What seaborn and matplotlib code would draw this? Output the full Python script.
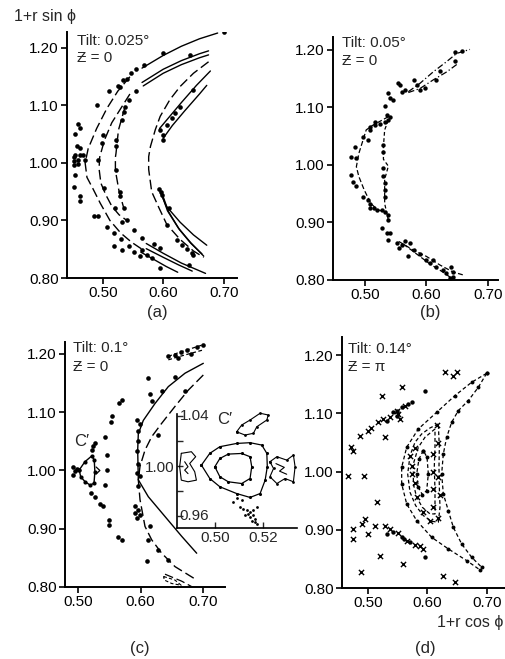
import matplotlib
matplotlib.use("Agg")
import matplotlib.pyplot as plt
import seaborn as sns
import pandas as pd

sns.set_style("ticks")
plt.rcParams['font.family'] = ['Liberation Sans', 'DejaVu Sans']
plt.rcParams['font.size'] = 10.5

# ---------------- data: panel (a) ----------------
a_dots_x = [0.700, 0.600, 0.645, 0.569, 0.555, 0.547, 0.540, 0.534, 0.511, 0.525, 0.529, 0.555, 0.543, 0.490,
            0.537, 0.535, 0.532, 0.501, 0.499, 0.522, 0.522,
            0.460, 0.462, 0.455, 0.457, 0.462, 0.455, 0.462, 0.468, 0.452, 0.452, 0.452, 0.460, 0.460, 0.455,
            0.452, 0.462, 0.462, 0.471,
            0.485, 0.493, 0.493, 0.502, 0.507, 0.518, 0.518, 0.531, 0.532, 0.532, 0.540, 0.522, 0.528, 0.529,
            0.521, 0.535, 0.543, 0.551, 0.551, 0.562, 0.565, 0.573, 0.581, 0.565, 0.584, 0.595, 0.595, 0.642,
            0.595, 0.600, 0.600, 0.606, 0.614, 0.620, 0.628, 0.650, 0.593, 0.596, 0.598, 0.609, 0.606, 0.623,
            0.631, 0.640, 0.648, 0.650]
a_dots_y = [1.228, 1.191, 1.188, 1.170, 1.163, 1.156, 1.146, 1.145, 1.126, 1.134, 1.133, 1.125, 1.110, 1.100,
            1.098, 1.089, 1.075, 1.049, 1.034, 1.040, 1.029,
            1.068, 1.061, 1.050, 1.029, 1.026, 1.014, 1.014, 1.014, 1.011, 1.003, 0.997, 1.005, 0.999, 0.979,
            0.958, 0.943, 0.934, 1.006,
            0.907, 0.907, 1.005, 0.956, 0.888, 0.878, 0.855, 0.867, 0.849, 0.898, 0.901, 0.987, 0.949, 0.942,
            0.921, 0.921, 0.855, 0.884, 0.846, 0.839, 0.848, 0.840, 0.835, 0.869, 0.859, 0.852, 0.817, 0.823,
            1.057, 1.049, 1.040, 1.066, 1.078, 1.087, 1.098, 1.127, 0.954, 0.950, 0.944, 0.921, 0.892, 0.866,
            0.857, 0.851, 0.843, 0.840]

a_T1_x = [0.565, 0.600, 0.630, 0.660, 0.690]
a_T1_y = [1.165, 1.187, 1.203, 1.216, 1.226]
a_T2_x = [0.565, 0.600, 0.630, 0.660, 0.675]
a_T2_y = [1.140, 1.163, 1.178, 1.190, 1.195]
a_T3_x = [0.567, 0.600, 0.630, 0.660, 0.675]
a_T3_y = [1.134, 1.156, 1.171, 1.183, 1.188]
a_R1_x = [0.594, 0.610, 0.630, 0.655, 0.678]
a_R1_y = [1.060, 1.080, 1.105, 1.135, 1.160]
a_R2_x = [0.600, 0.615, 0.635, 0.660, 0.672]
a_R2_y = [1.043, 1.065, 1.090, 1.120, 1.135]
a_R0_x = [0.675, 0.650, 0.628, 0.611, 0.595, 0.587, 0.579, 0.576, 0.576, 0.581, 0.593, 0.606, 0.628, 0.650, 0.667]
a_R0_y = [1.176, 1.156, 1.133, 1.110, 1.081, 1.058, 1.029, 1.011, 0.989, 0.950, 0.922, 0.893, 0.867, 0.847, 0.836]
a_R3_x = [0.593, 0.605, 0.628, 0.650, 0.672]
a_R3_y = [0.955, 0.925, 0.897, 0.875, 0.857]
a_R4_x = [0.596, 0.607, 0.625, 0.645, 0.667]
a_R4_y = [0.950, 0.917, 0.887, 0.862, 0.838]
a_R5_x = [0.598, 0.609, 0.627, 0.646, 0.664]
a_R5_y = [0.947, 0.915, 0.884, 0.860, 0.842]
a_B1_x = [0.572, 0.600, 0.630, 0.670]
a_B1_y = [0.860, 0.843, 0.826, 0.808]
a_B2_x = [0.572, 0.600, 0.625, 0.648]
a_B2_y = [0.851, 0.836, 0.823, 0.812]
a_B3_x = [0.563, 0.585, 0.605, 0.624]
a_B3_y = [0.845, 0.832, 0.820, 0.810]
a_L1_x = [0.545, 0.525, 0.507, 0.490, 0.476, 0.471, 0.474, 0.484, 0.496, 0.512, 0.530, 0.548, 0.565]
a_L1_y = [1.150, 1.125, 1.095, 1.060, 1.025, 1.000, 0.975, 0.955, 0.930, 0.900, 0.878, 0.862, 0.850]
a_L2_x = [0.545, 0.530, 0.515, 0.503, 0.495, 0.494, 0.497, 0.505, 0.515, 0.527, 0.540]
a_L2_y = [1.120, 1.095, 1.070, 1.040, 1.010, 0.990, 0.965, 0.945, 0.925, 0.910, 0.900]
a_L3_x = [0.537, 0.526, 0.522, 0.521, 0.521, 0.527, 0.535]
a_L3_y = [1.098, 1.057, 1.017, 1.010, 0.987, 0.951, 0.921]

# ---------------- data: panel (b) ----------------
b_dots_x = [0.554, 0.557, 0.560, 0.565, 0.579, 0.584, 0.589, 0.597, 0.616, 0.622, 0.646, 0.646, 0.657,
            0.538, 0.541, 0.546, 0.532, 0.536, 0.541, 0.538, 0.532, 0.524, 0.516, 0.508, 0.516, 0.508, 0.497,
            0.505, 0.484, 0.486, 0.478, 0.478, 0.481, 0.486, 0.497, 0.505, 0.508, 0.514, 0.508, 0.519, 0.527,
            0.532, 0.538, 0.538, 0.527, 0.535, 0.538, 0.541, 0.552, 0.555, 0.560, 0.565, 0.573, 0.570, 0.579,
            0.589, 0.600, 0.611, 0.605, 0.616, 0.627, 0.632, 0.640, 0.643, 0.643, 0.638,
            0.529, 0.530, 0.530, 0.530, 0.532, 0.532, 0.532]
b_dots_y = [1.143, 1.139, 1.127, 1.130, 1.148, 1.139, 1.130, 1.134, 1.148, 1.164, 1.180, 1.196, 1.198,
            1.125, 1.116, 1.113, 1.102, 1.087, 1.084, 1.078, 1.075, 1.072, 1.069, 1.066, 1.075, 1.061, 1.049,
            1.043, 1.032, 1.012, 1.014, 0.983, 0.971, 0.963, 0.945, 0.939, 0.933, 0.925, 0.925, 0.922, 0.922,
            0.919, 0.913, 0.904, 0.890, 0.881, 0.870, 0.881, 0.864, 0.855, 0.861, 0.867, 0.864, 0.841, 0.852,
            0.846, 0.835, 0.835, 0.829, 0.823, 0.817, 0.812, 0.823, 0.814, 0.806, 0.803,
            1.035, 1.023, 0.994, 0.980, 0.968, 0.957, 0.945]
b_top1_x = [0.5705, 0.5894, 0.611, 0.633, 0.649, 0.6707]
b_top1_y = [1.1275, 1.142, 1.162, 1.180, 1.194, 1.201]
b_top2_x = [0.5705, 0.5894, 0.611, 0.633, 0.652]
b_top2_y = [1.126, 1.133, 1.148, 1.162, 1.177]
b_left_x = [0.538, 0.5125, 0.502, 0.490, 0.486, 0.490, 0.4986, 0.5096, 0.5206, 0.532]
b_left_y = [1.084, 1.069, 1.061, 1.020, 0.997, 0.980, 0.957, 0.933, 0.922, 0.919]
b_mid_x = [0.538, 0.532, 0.530, 0.530, 0.538, 0.532, 0.532, 0.538]
b_mid_y = [1.078, 1.061, 1.032, 1.010, 0.998, 0.975, 0.933, 0.904]
b_bot1_x = [0.555, 0.5786, 0.600, 0.622, 0.643, 0.659]
b_bot1_y = [0.867, 0.852, 0.841, 0.826, 0.814, 0.809]
b_bot2_x = [0.5623, 0.5840, 0.6057, 0.6274, 0.6436]
b_bot2_y = [0.8626, 0.8452, 0.8278, 0.8133, 0.801]

# ---------------- data: panel (c) ----------------
c_dots_x = [0.570, 0.5653, 0.5539, 0.5523, 0.5432, 0.5459, 0.5459, 0.5432, 0.5501, 0.5501, 0.5645, 0.570,
            0.6099, 0.6125,
            0.5939, 0.5992, 0.5955, 0.5965, 0.5939, 0.5965, 0.5939, 0.5992, 0.5965, 0.5912, 0.5965, 0.5912,
            0.5992, 0.5939, 0.6152, 0.6179, 0.6339, 0.6552, 0.6152, 0.6125, 0.6285, 0.6445, 0.6712, 0.6285,
            0.6445, 0.655, 0.665, 0.675, 0.690, 0.700, 0.660, 0.680,
            0.5227, 0.5245, 0.5272, 0.520, 0.5272, 0.5352, 0.5405, 0.4925, 0.495, 0.4925, 0.498]
c_dots_y = [1.121, 1.116, 1.093, 1.084, 1.058, 1.026, 1.000, 0.975, 0.915, 0.906, 0.886, 0.880,
            0.845, 1.158,
            1.086, 1.080, 1.068, 1.051, 1.034, 1.011, 0.995, 0.990, 0.973, 0.939, 0.933, 0.927,
            0.924, 0.918, 1.131, 1.119, 1.136, 1.161, 0.904, 0.881, 0.864, 0.847, 1.136, 1.061,
            1.196, 1.199, 1.203, 1.207, 1.212, 1.215, 1.193, 1.200,
            1.035, 1.042, 1.048, 0.962, 0.954, 0.943, 0.939, 1.006, 0.999, 0.993, 1.003]
c_C1_x = [0.7005, 0.6712, 0.6445, 0.6232, 0.6045, 0.5965, 0.5955, 0.5965, 0.6125, 0.6392, 0.6659, 0.6899]
c_C1_y = [1.184, 1.167, 1.144, 1.115, 1.086, 1.063, 1.035, 0.984, 0.955, 0.921, 0.887, 0.858]
c_C2_x = [0.7005, 0.6765, 0.6552, 0.6339, 0.6179, 0.6072, 0.5992, 0.5965, 0.5992, 0.6072, 0.6179, 0.6339,
          0.6552, 0.6899]
c_C2_y = [1.164, 1.138, 1.110, 1.081, 1.058, 1.035, 1.007, 0.984, 0.950, 0.904, 0.881, 0.858, 0.835, 0.812]
c_P1_x = [0.6445, 0.660, 0.680, 0.7005]
c_P1_y = [1.196, 1.202, 1.209, 1.216]
c_P2_x = [0.6445, 0.660, 0.680, 0.7005]
c_P2_y = [1.190, 1.195, 1.201, 1.207]
c_S1_x = [0.6392, 0.6659, 0.6899]
c_S1_y = [0.822, 0.810, 0.796]
c_S2_x = [0.637, 0.655, 0.665, 0.650, 0.638, 0.637]
c_S2_y = [0.818, 0.812, 0.803, 0.806, 0.812, 0.818]
c_cp_x = [0.502, 0.511, 0.522, 0.526, 0.527, 0.5256, 0.5192, 0.5112, 0.5043, 0.502]
c_cp_y = [1.001, 1.015, 1.025, 1.018, 0.998, 0.978, 0.975, 0.981, 0.989, 1.001]
c_Y_x = [0.529, 0.535, 0.529]
c_Y_y = [1.006, 1.000, 0.994]

# ---------------- data: inset of (c) ----------------
i_out_x = [0.4944, 0.4979, 0.5021, 0.5091, 0.5147, 0.5196, 0.5217, 0.5219, 0.5210, 0.5189, 0.5147, 0.5091,
           0.5021, 0.4979, 0.4944]
i_out_y = [1.0008, 1.0102, 1.0155, 1.0181, 1.0187, 1.0168, 1.0102, 0.9995, 0.9888, 0.9781, 0.9750, 0.9781,
           0.9835, 0.9901, 1.0008]
i_in_x = [0.5000, 0.5021, 0.5056, 0.5112, 0.5147, 0.5154, 0.5147, 0.5112, 0.5056, 0.5021, 0.5000]
i_in_y = [0.9995, 1.0061, 1.0096, 1.0101, 1.0075, 0.9995, 0.9901, 0.9861, 0.9875, 0.9915, 0.9995]
i_left_x = [0.4860, 0.4902, 0.4920, 0.4895, 0.4916, 0.4923, 0.4888, 0.4860, 0.4853, 0.4860]
i_left_y = [1.0102, 1.0115, 1.0075, 1.0021, 0.9955, 0.9888, 0.9875, 0.9888, 0.9995, 1.0102]
i_left2_x = [0.4874, 0.4888, 0.4874, 0.4888]
i_left2_y = [1.0035, 0.9995, 0.9968, 0.9940]
i_right_x = [0.5230, 0.5259, 0.5300, 0.5328, 0.5335, 0.5328, 0.5293, 0.5259, 0.5230, 0.5245, 0.5230]
i_right_y = [1.0035, 1.0075, 1.0048, 1.0088, 0.9995, 0.9875, 0.9901, 0.9861, 0.9915, 0.9981, 1.0035]
i_right2_x = [0.5255, 0.5290, 0.5270, 0.5300]
i_right2_y = [1.0020, 0.9990, 0.9960, 0.9935]
i_top_x = [0.5091, 0.5112, 0.5147, 0.5189, 0.5223, 0.5217, 0.5175, 0.5161, 0.5126, 0.5091]
i_top_y = [1.0274, 1.0328, 1.0368, 1.0422, 1.0408, 1.0368, 1.0314, 1.0262, 1.0248, 1.0274]
i_dots_x = [0.5074, 0.5091, 0.5112, 0.5105, 0.5119, 0.5133, 0.5147, 0.5161, 0.5126, 0.5147, 0.5168, 0.5154,
            0.5175, 0.5161, 0.5140, 0.5175, 0.5168]
i_dots_y = [0.9714, 0.9747, 0.9728, 0.9675, 0.9661, 0.9648, 0.9635, 0.9648, 0.9608, 0.9595, 0.9581, 0.9563,
            0.9536, 0.9608, 0.9621, 0.9675, 0.9555]

# ---------------- data: panel (d) ----------------
d_D1_x = [0.6994, 0.6742, 0.6462, 0.6154, 0.5846, 0.5650, 0.5566, 0.5566, 0.5650, 0.5818, 0.6070, 0.6350,
          0.6658, 0.6882]
d_D1_y = [1.1689, 1.1535, 1.1306, 1.1019, 1.0733, 1.0418, 1.0074, 0.9789, 0.9445, 0.9158, 0.8871, 0.8672,
          0.8471, 0.8311]
d_D2_x = [0.6994, 0.6854, 0.6686, 0.6518, 0.6406, 0.6322, 0.6266, 0.6238, 0.6266, 0.6350, 0.6434, 0.6574,
          0.6742, 0.6910]
d_D2_y = [1.1689, 1.1448, 1.1220, 1.1048, 1.0847, 1.0589, 1.0304, 0.9960, 0.9617, 0.9330, 0.9043, 0.8757,
          0.8528, 0.8357]
d_D3_x = [0.6182, 0.6042, 0.5902, 0.5790, 0.5706, 0.5667, 0.5706, 0.5801, 0.5930, 0.6070, 0.6182, 0.6210,
          0.6199, 0.6193, 0.6199, 0.6182]
d_D3_y = [1.0819, 1.0750, 1.0647, 1.0504, 1.0275, 0.9960, 0.9645, 0.9416, 0.9244, 0.9147, 0.9130, 0.9387,
          0.9731, 1.0074, 1.0418, 1.0819]
d_D4_x = [0.6126, 0.5958, 0.5846, 0.5762, 0.5762, 0.5818, 0.5913, 0.6042, 0.6126, 0.6126, 0.6114, 0.6126,
          0.6126]
d_D4_y = [1.0733, 1.0590, 1.0418, 1.0132, 0.9789, 0.9559, 0.9387, 0.9273, 0.9273, 0.9674, 1.0074, 1.0418,
          1.0733]
d_D5_x = [0.5930, 0.5857, 0.5818, 0.5846, 0.5913, 0.5986, 0.6014, 0.5992, 0.5930]
d_D5_y = [1.0361, 1.0218, 0.9960, 0.9731, 0.9605, 0.9674, 0.9960, 1.0246, 1.0361]
d_x_x = [0.6294, 0.6434, 0.6490, 0.5566, 0.5230, 0.5286, 0.4866, 0.5006, 0.5050, 0.4714, 0.4754, 0.4670,
         0.4939, 0.5146, 0.4754, 0.4754, 0.4894, 0.4950, 0.5006, 0.5202, 0.5594, 0.4883, 0.6266, 0.6462,
         0.5174, 0.5258, 0.5370, 0.5482, 0.5510, 0.5622, 0.5538,
         0.5706, 0.5734, 0.5790, 0.5818, 0.5734, 0.5790, 0.6098, 0.6098, 0.6098, 0.6098, 0.6182, 0.6182,
         0.6210, 0.6182, 0.6154, 0.5930, 0.6042,
         0.5286, 0.5370, 0.5510, 0.5650, 0.5790, 0.5874, 0.5930, 0.5118]
d_x_y = [1.1706, 1.1650, 1.1706, 1.1448, 1.1306, 1.0589, 1.0619, 1.0704, 1.0743, 1.0418, 1.0361, 0.9932,
         0.9920, 0.9473, 0.9016, 0.8843, 0.9101, 0.9187, 0.8929, 0.8557, 0.8405, 0.8271, 0.8214, 0.8099,
         1.0847, 1.0905, 1.0933, 1.1048, 1.0990, 1.1134, 1.0905,
         1.0275, 1.0100, 0.9800, 0.9560, 0.9960, 1.0400, 1.0300, 1.0000, 0.9700, 0.9400, 1.0500, 0.9900,
         0.9600, 0.9200, 1.0800, 0.9300, 0.9150,
         0.9073, 0.9016, 0.8941, 0.8814, 0.8746, 0.8728, 0.8672, 0.9073]
d_dots_x = [0.5314, 0.5426, 0.5482, 0.5566, 0.5678, 0.5734, 0.5482, 0.5958, 0.5426, 0.5566, 0.5706, 0.5958,
            0.5314, 0.5600]
d_dots_y = [1.0876, 1.1019, 1.0962, 1.1105, 1.1163, 1.1191, 1.1048, 1.1392, 0.8958, 0.8871, 0.8786, 0.8528,
            0.8929, 0.8850]

# ---------------- figure ----------------
W, H = 505, 659
fig = plt.figure(figsize=(W / 100, H / 100), dpi=100)


def rect(l, t, r, b):
    return [l / W, 1 - b / H, (r - l) / W, (b - t) / H]


def curve(ax, xs, ys, ls='-', lw=1.0, clip=True):
    df = pd.DataFrame({'x': xs, 'y': ys})
    sns.lineplot(data=df, x='x', y='y', sort=False, estimator=None, color='black',
                 linestyle=ls, linewidth=lw, ax=ax, legend=False)
    if not clip:
        for ln in ax.lines:
            ln.set_clip_on(False)


def dots(ax, xs, ys, s=9, marker='o'):
    df = pd.DataFrame({'x': xs, 'y': ys})
    if marker == 'x':
        sns.scatterplot(data=df, x='x', y='y', marker='x', s=s, color='black', linewidth=1.0,
                        ax=ax, legend=False)
    else:
        sns.scatterplot(data=df, x='x', y='y', s=s, color='black', edgecolor='black', linewidth=0,
                        ax=ax, legend=False)


def style_main(ax, xlim, ylim):
    ax.set_xlim(*xlim)
    ax.set_ylim(*ylim)
    ax.set_xticks([0.5, 0.6, 0.7])
    ax.set_xticklabels(['0.50', '0.60', '0.70'])
    ax.set_yticks([0.8, 0.9, 1.0, 1.1, 1.2])
    ax.set_yticklabels(['0.80', '0.90', '1.00', '1.10', '1.20'])
    ax.tick_params(direction='out', length=4, width=1.2, labelsize=11, pad=2, colors='black')
    sns.despine(ax=ax)
    for sp in ['left', 'bottom']:
        ax.spines[sp].set_linewidth(1.4)
        ax.spines[sp].set_color('black')
    ax.set_xlabel('')
    ax.set_ylabel('')
    ax.patch.set_alpha(0)


LD = (0, (7, 3))   # long dashes
SD = (0, (3, 2))   # short dashes

# (a)
axa = fig.add_axes(rect(67, 32, 237, 278))
for xs, ys in [(a_T1_x, a_T1_y), (a_T2_x, a_T2_y), (a_T3_x, a_T3_y), (a_R1_x, a_R1_y), (a_R2_x, a_R2_y),
               (a_R3_x, a_R3_y), (a_R4_x, a_R4_y), (a_R5_x, a_R5_y), (a_B1_x, a_B1_y), (a_B2_x, a_B2_y),
               (a_B3_x, a_B3_y)]:
    curve(axa, xs, ys, '-', 1.0)
for xs, ys in [(a_R0_x, a_R0_y), (a_L1_x, a_L1_y), (a_L2_x, a_L2_y), (a_L3_x, a_L3_y)]:
    curve(axa, xs, ys, LD, 1.0)
dots(axa, a_dots_x, a_dots_y, s=11)
style_main(axa, (0.441, 0.722), (0.80, 1.2278))

# (b)
axb = fig.add_axes(rect(333, 37, 498, 280))
curve(axb, b_top1_x, b_top1_y, (0, (5, 2, 1, 2)), 0.9)
curve(axb, b_top2_x, b_top2_y, (0, (5, 2, 1, 2)), 0.9)
curve(axb, b_left_x, b_left_y, (0, (4, 2)), 0.9)
curve(axb, b_mid_x, b_mid_y, (0, (3, 2)), 0.9)
curve(axb, b_bot1_x, b_bot1_y, (0, (4, 2)), 0.9)
curve(axb, b_bot2_x, b_bot2_y, (0, (4, 2)), 0.9)
dots(axb, b_dots_x, b_dots_y, s=10)
style_main(axb, (0.448, 0.7163), (0.80, 1.2226))

# (c)
axc = fig.add_axes(rect(65, 342, 225, 587))
curve(axc, c_C1_x, c_C1_y, '-', 1.0)
curve(axc, c_C2_x, c_C2_y, LD, 1.0)
curve(axc, c_P1_x, c_P1_y, SD, 0.9)
curve(axc, c_P2_x, c_P2_y, SD, 0.9)
curve(axc, c_S1_x, c_S1_y, LD, 0.9)
curve(axc, c_S2_x, c_S2_y, SD, 0.8)
curve(axc, c_cp_x, c_cp_y, '-', 1.0)
curve(axc, c_Y_x, c_Y_y, '-', 0.9)
dots(axc, c_cp_x, c_cp_y, s=9)
dots(axc, c_dots_x, c_dots_y, s=11)
style_main(axc, (0.4792, 0.7352), (0.80, 1.2206))

# (d)
axd = fig.add_axes(rect(342, 337, 508, 588))
for xs, ys in [(d_D1_x, d_D1_y), (d_D2_x, d_D2_y), (d_D3_x, d_D3_y), (d_D4_x, d_D4_y), (d_D5_x, d_D5_y)]:
    curve(axd, xs, ys, SD, 0.9)
dots(axd, d_D1_x, d_D1_y, s=8)
dots(axd, d_D2_x, d_D2_y, s=8)
dots(axd, d_D5_x, d_D5_y, s=8)
dots(axd, d_dots_x, d_dots_y, s=10)
dots(axd, d_x_x, d_x_y, s=14, marker='x')
style_main(axd, (0.4563, 0.7353), (0.80, 1.2313))

# inset of (c)
axi = fig.add_axes(rect(177, 414, 297, 528))
curve(axi, i_out_x, i_out_y, '-', 0.9)
curve(axi, i_in_x, i_in_y, '-', 0.9)
curve(axi, i_left_x, i_left_y, '-', 0.8)
curve(axi, i_left2_x, i_left2_y, '-', 0.8)
curve(axi, i_right_x, i_right_y, '-', 0.8)
curve(axi, i_right2_x, i_right2_y, '-', 0.8)
curve(axi, i_top_x, i_top_y, '-', 0.8, clip=False)
dots(axi, i_out_x, i_out_y, s=5)
dots(axi, i_in_x, i_in_y, s=5)
dots(axi, i_right_x, i_right_y, s=4)
dots(axi, i_top_x, i_top_y, s=4)
dots(axi, i_dots_x, i_dots_y, s=4)
for c in axi.collections:
    c.set_clip_on(False)
axi.set_xlim(0.4842, 0.5343)
axi.set_ylim(0.9506, 1.0416)
axi.set_xticks([0.50, 0.52])
axi.set_xticklabels(['0.50', '0.52'])
axi.set_yticks([0.96, 0.98, 1.00, 1.02, 1.04])
axi.set_yticklabels(['', '', '1.00', '', ''])
axi.tick_params(direction='in', length=4, width=1.0, labelsize=11, pad=2)
sns.despine(ax=axi)
for sp in ['left', 'bottom']:
    axi.spines[sp].set_linewidth(1.2)
    axi.spines[sp].set_color('black')
axi.set_xlabel('')
axi.set_ylabel('')
axi.patch.set_alpha(0)
axi.text(0.4852, 1.040, '1.04', fontsize=11, ha='left', va='center')
axi.text(0.4852, 0.960, '0.96', fontsize=11, ha='left', va='center')
axi.text(0.5008, 1.037, 'C\u2032', fontsize=12, ha='left', va='center')


def ftext(x, y, s, size=11, ha='left', va='center'):
    fig.text(x / W, 1 - y / H, s, fontsize=size, ha=ha, va=va)


ftext(14, 17, '1+r sin \u03d5', 11.5)
ftext(77, 41, 'Tilt: 0.025\u00b0', 11)
ftext(77, 58, '\u01b5 = 0', 11)
ftext(342, 43, 'Tilt: 0.05\u00b0', 11)
ftext(342, 61, '\u01b5 = 0', 11)
ftext(73, 348, 'Tilt: 0.1\u00b0', 11)
ftext(73, 367, '\u01b5 = 0', 11)
ftext(348, 349, 'Tilt: 0.14\u00b0', 11)
ftext(348, 367, '\u01b5 = \u03c0', 11)
ftext(74, 441, 'C\u2032', 12)
ftext(157, 313, '(a)', 12, ha='center')
ftext(430, 313, '(b)', 12, ha='center')
ftext(140, 648, '(c)', 12, ha='center')
ftext(425, 648, '(d)', 12, ha='center')
ftext(503, 623, '1+r cos \u03d5', 11.5, ha='right')

fig.savefig('out.png', dpi=100)
